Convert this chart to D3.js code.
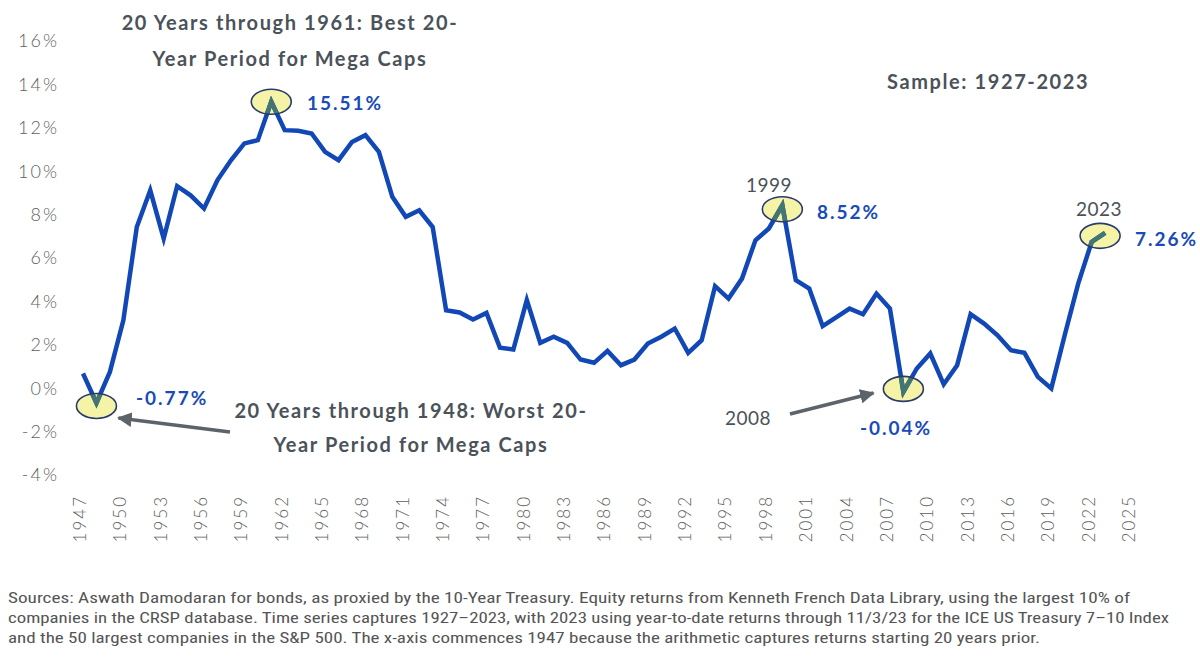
<!DOCTYPE html>
<html>
<head>
<meta charset="utf-8">
<script src="https://cdn.jsdelivr.net/npm/d3@7"></script>
<style>
  body { margin: 0; background: #fff; }
  svg { display: block; }
  .ytick, .xtick { font-family: Lato, "Open Sans", sans-serif; font-weight: 300; fill: #606060; letter-spacing: 2px; }
  .note { font-family: Lato, "Open Sans", sans-serif; font-weight: 700; fill: #4b525a; letter-spacing: 1.6px; }
  .val { font-family: Lato, "Open Sans", sans-serif; font-weight: 700; fill: #1a4bb8; letter-spacing: 2px; }
  .yr { font-family: Lato, "Open Sans", sans-serif; font-weight: 400; fill: #4b525a; letter-spacing: 0.5px; }
  .src { font-family: "Liberation Sans Narrow", "Roboto Condensed", "Open Sans", sans-serif; fill: #555; }
</style>
</head>
<body>
<div id="chart"></div>
<script>
// 20-year rolling excess return of mega caps over treasuries, year ending 1947..2023
var firstYear = 1947;
var values = [
  0.68, -0.68, 0.75, 3.13, 7.43, 9.12, 6.90, 9.31, 8.89, 8.28,   // 1947-1956
  9.59, 10.50, 11.28, 11.43, 13.20, 11.89, 11.86, 11.74, 10.89, 10.51, // 1957-1966
  11.35, 11.66, 10.89, 8.82, 7.90, 8.20, 7.43, 3.59, 3.49, 3.17,  // 1967-1976
  3.47, 1.87, 1.78, 4.06, 2.09, 2.37, 2.09, 1.32, 1.17, 1.72,     // 1977-1986
  1.06, 1.32, 2.06, 2.37, 2.75, 1.63, 2.21, 4.70, 4.13, 5.05,     // 1987-1996
  6.82, 7.36, 8.43, 4.98, 4.59, 2.86, 3.26, 3.67, 3.41, 4.36,     // 1997-2006
  3.67, -0.17, 0.91, 1.60, 0.18, 1.06, 3.41, 2.98, 2.44, 1.75,    // 2007-2016
  1.63, 0.52, -0.01, 2.45, 4.82, 6.74, 7.16                       // 2017-2023
];
var years = values.map(function(v, i){ return firstYear + i; });

var yTicks = [-4, -2, 0, 2, 4, 6, 8, 10, 12, 14, 16];
var xTicks = d3.range(1947, 2026, 3);

// circled points and their call-out labels
var highlightYears = [1948, 1961, 1999, 2008, 2023];
var highlightLabels = ["-0.77%", "15.51%", "8.52%", "-0.04%", "7.26%"];

var bestNote = ["20 Years through 1961:  Best 20-", "Year Period for Mega Caps"];
var worstNote = ["20 Years through 1948:  Worst 20-", "Year Period for Mega Caps"];
var sampleNote = "Sample: 1927-2023";
var sources = [
  "Sources: Aswath Damodaran for bonds, as proxied by the 10-Year Treasury. Equity returns from Kenneth French Data Library, using the largest 10% of",
  "companies in the CRSP database. Time series captures 1927\u20132023, with 2023 using year-to-date returns through 11/3/23 for the ICE US Treasury 7\u201310 Index",
  "and the 50 largest companies in the S&P 500. The x-axis commences 1947 because the arithmetic captures returns starting 20 years prior."
];

var W = 1200, H = 661;
var svg = d3.select("#chart").append("svg").attr("width", W).attr("height", H);

var x = d3.scaleLinear().domain([1947, 2025]).range([83, 1132]);
var y = d3.scaleLinear().domain([-4, 16]).range([475, 41]);

// y labels
svg.append("g").selectAll("text").data(yTicks).enter().append("text")
  .attr("class", "ytick")
  .attr("x", 59).attr("y", function(d){ return y(d); })
  .attr("dy", "0.35em")
  .attr("text-anchor", "end")
  .style("font-size", "18px")
  .text(function(d){ return d + "%"; });

// x labels, rotated
svg.append("g").selectAll("text").data(xTicks).enter().append("text")
  .attr("class", "xtick")
  .attr("transform", function(d){ return "translate(" + (x(d) - 3) + ",495) rotate(-90)"; })
  .attr("dy", "0.35em")
  .attr("text-anchor", "end")
  .style("font-size", "17px")
  .text(function(d){ return d; });

// offsets of the circles from the points they mark
function cxOf(d){ return x(d) - (d == 2023 ? 5 : 0); }
function cyOf(d){ return y(values[d - firstYear]) + (d == 1961 ? 0 : (d == 1999 ? 4 : (d == 2008 ? -3 : 3))); }

var defs = svg.append("defs");
var clip = defs.append("clipPath").attr("id", "rings");
clip.selectAll("ellipse").data(highlightYears).enter().append("ellipse")
  .attr("cx", cxOf).attr("cy", cyOf).attr("rx", 20).attr("ry", 12.5);

// yellow fill under the line
svg.append("g").selectAll("ellipse").data(highlightYears).enter().append("ellipse")
  .attr("cx", cxOf).attr("cy", cyOf).attr("rx", 20).attr("ry", 12.5)
  .attr("fill", "#f5f3a6");

var line = d3.line()
  .x(function(d, i){ return x(years[i]); })
  .y(function(d){ return y(d); });

svg.append("path")
  .datum(values)
  .attr("d", line)
  .attr("fill", "none")
  .attr("stroke", "#1148b5")
  .attr("stroke-width", 4.5)
  .attr("stroke-linejoin", "miter");

// the bit of line inside each circle turns teal
svg.append("path")
  .datum(values)
  .attr("d", line)
  .attr("clip-path", "url(#rings)")
  .attr("fill", "none")
  .attr("stroke", "#437571")
  .attr("stroke-width", 4.5)
  .attr("stroke-linejoin", "miter");

svg.append("g").selectAll("ellipse").data(highlightYears).enter().append("ellipse")
  .attr("cx", cxOf).attr("cy", cyOf).attr("rx", 20).attr("ry", 12.5)
  .attr("fill", "none")
  .attr("stroke", "#283a6e")
  .attr("stroke-width", 1.6);

// arrows
defs.append("marker")
  .attr("id", "head")
  .attr("viewBox", "0 0 10 10")
  .attr("refX", 9).attr("refY", 5)
  .attr("markerWidth", 4.2).attr("markerHeight", 4.2)
  .attr("orient", "auto")
  .append("path").attr("d", "M0,0L10,5L0,10z").attr("fill", "#5c636b");

function arrow(x1, y1, x2, y2){
  svg.append("line")
    .attr("x1", x1).attr("y1", y1).attr("x2", x2).attr("y2", y2)
    .attr("stroke", "#5c636b").attr("stroke-width", 3.5)
    .attr("marker-end", "url(#head)");
}
arrow(230, 432, x(1948) + 22, 418);
arrow(790, 414, x(2008) - 30, 393);

// value labels
var valPos = [[136, 398, "start"], [307, 103, "start"], [817, 212, "start"], [896, 428, "middle"], [1135, 239, "start"]];
svg.append("g").selectAll("text").data(highlightLabels).enter().append("text")
  .attr("class", "val")
  .attr("x", function(d, i){ return valPos[i][0]; })
  .attr("y", function(d, i){ return valPos[i][1]; })
  .attr("dy", "0.35em")
  .attr("text-anchor", function(d, i){ return valPos[i][2]; })
  .style("font-size", "19px")
  .text(function(d){ return d; });

// year labels
[["1999", 769, 185], ["2023", 1099, 209], ["2008", 748, 418]].forEach(function(t){
  svg.append("text").attr("class", "yr")
    .attr("x", t[1]).attr("y", t[2]).attr("dy", "0.35em")
    .attr("text-anchor", "middle")
    .style("font-size", "19px")
    .text(t[0]);
});

// notes
function note(lines, cx, y0, gap){
  lines.forEach(function(s, i){
    svg.append("text").attr("class", "note")
      .attr("x", cx).attr("y", y0 + i * gap).attr("dy", "0.35em")
      .attr("text-anchor", "middle")
      .style("font-size", "20px")
      .text(s);
  });
}
note(bestNote, 290, 23, 36);
note(worstNote, 411, 411, 34);
svg.append("text").attr("class", "note")
  .attr("x", 887).attr("y", 82).attr("dy", "0.35em")
  .style("font-size", "20px")
  .text(sampleNote);

// sources
var srcEnds = [1130, 1169, 1040];
sources.forEach(function(s, i){
  svg.append("text").attr("class", "src")
    .attr("x", 8).attr("y", 598 + i * 20).attr("dy", "0.35em")
    .attr("textLength", srcEnds[i] - 8)
    .attr("lengthAdjust", "spacingAndGlyphs")
    .style("font-size", "15px")
    .text(s);
});
</script>
</body>
</html>
